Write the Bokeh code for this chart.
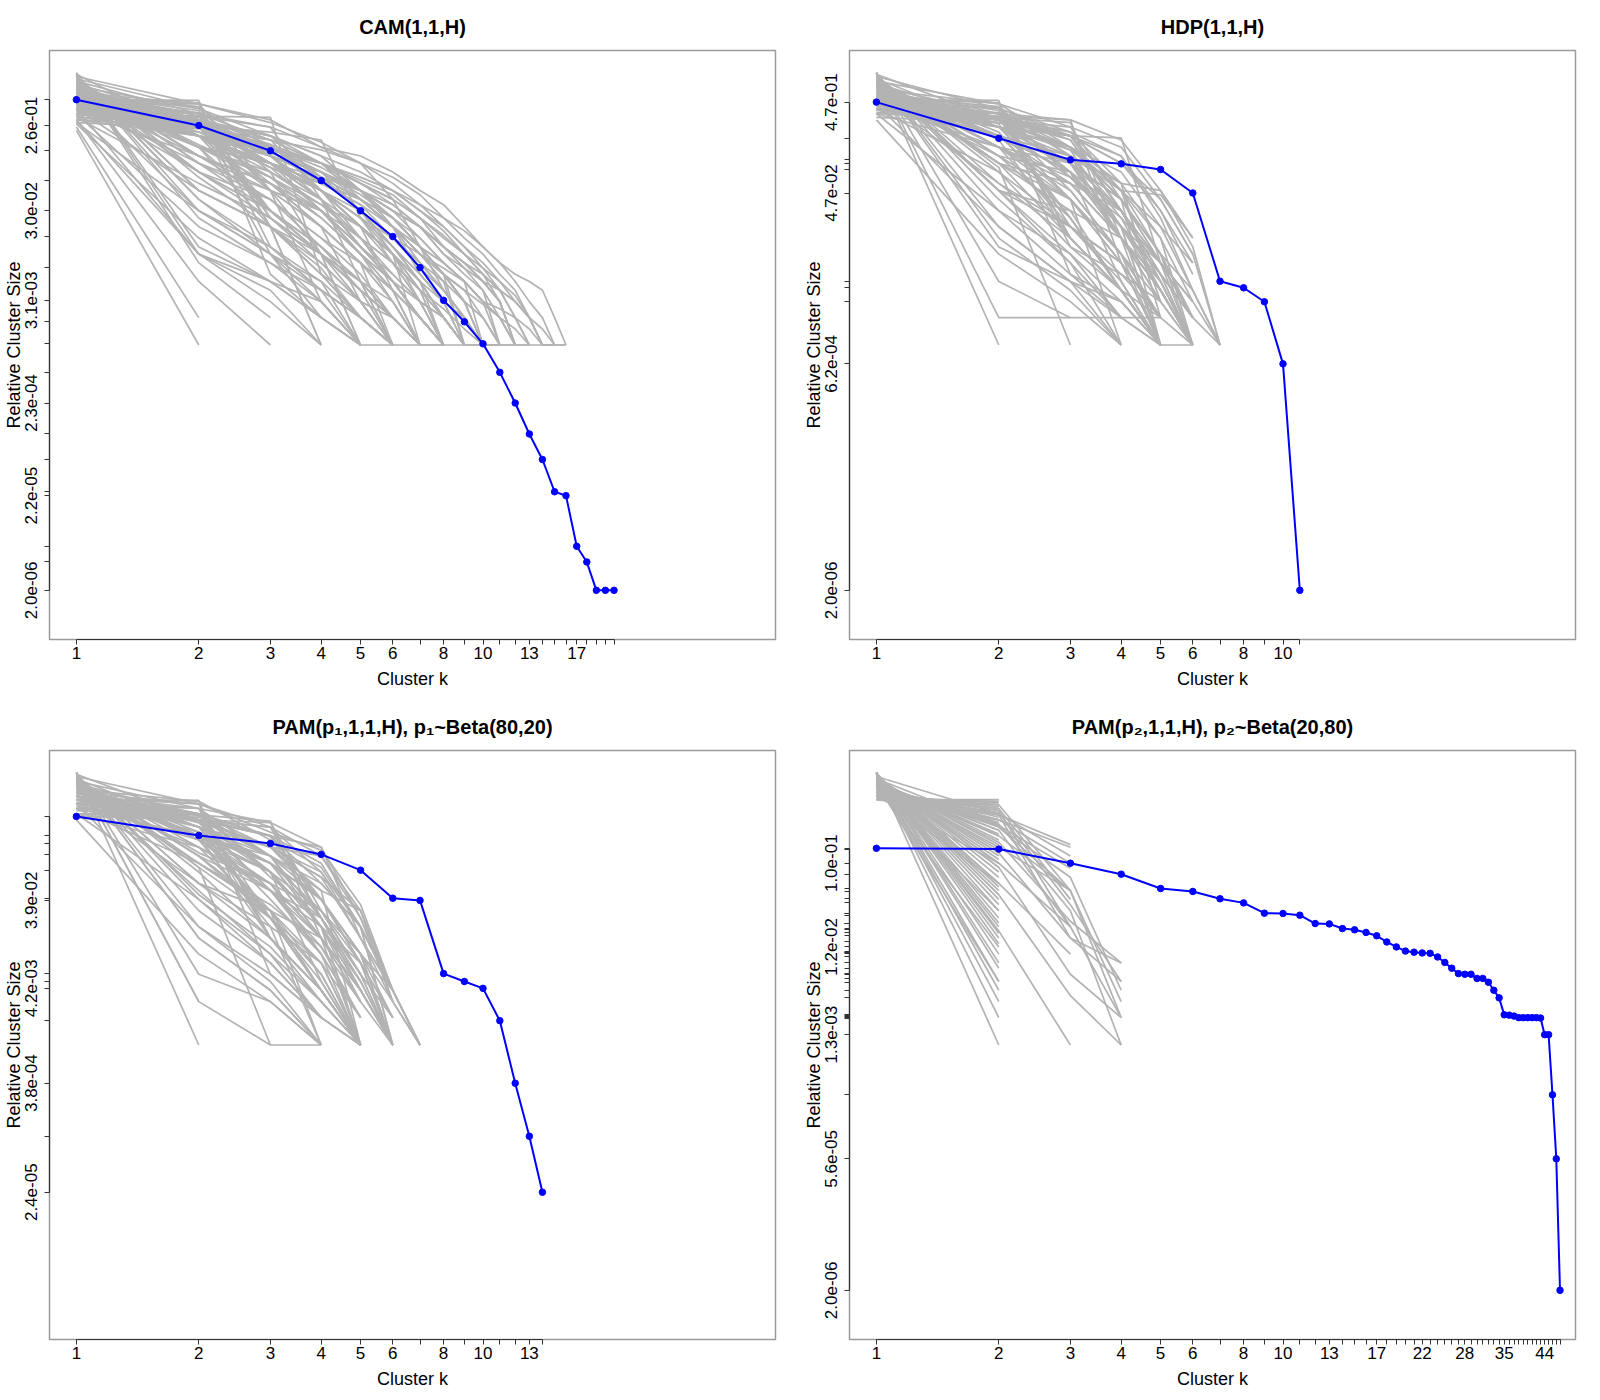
import math
from bokeh.plotting import figure
from bokeh.models import ColumnDataSource, Range1d, FixedTicker, CustomJSTickFormatter
from bokeh.layouts import gridplot
from bokeh.embed import file_html
from bokeh.resources import INLINE

FONT = "Liberation Sans"

# ---------------- data ----------------
CAM_TITLE = "CAM(1,1,H)"
CAM_BLUE = [0.50, 0.26, 0.137, 0.0645, 0.030, 0.0156, 0.0071, 0.0031, 0.0018, 0.00103,
            5.0e-4, 2.3e-4, 1.05e-4, 5.5e-5, 2.43e-5, 2.2e-5, 6.1e-6, 4.1e-6, 2.0e-6, 2.0e-6, 2.0e-6]
CAM_XLABELS = [1, 2, 3, 4, 5, 6, 8, 10, 13, 17]
CAM_YLAB_VALS = [0.26, 0.030, 0.0031, 2.3e-4, 2.2e-5, 2.0e-6]
CAM_YLAB_TEXT = ["2.6e-01", "3.0e-02", "3.1e-03", "2.3e-04", "2.2e-05", "2.0e-06"]
CAM_GRAY = [
    [0.99, 0.008, 0.002],
    [0.98, 0.012, 0.005, 0.002, 0.001],
    [0.96, 0.025, 0.008, 0.004, 0.002, 0.001],
    [0.94, 0.04, 0.012, 0.005, 0.002, 0.001],
    [0.92, 0.05, 0.02, 0.006, 0.003, 0.001],
    [0.9, 0.07, 0.02, 0.007, 0.002, 0.001],
    [0.88, 0.08, 0.025, 0.01, 0.004, 0.002, 0.001],
    [0.85, 0.1, 0.03, 0.012, 0.005, 0.002, 0.001],
    [0.82, 0.12, 0.04, 0.012, 0.004, 0.002, 0.001],
    [0.8, 0.15, 0.03, 0.01, 0.005, 0.003, 0.001, 0.001],
    [0.78, 0.12, 0.06, 0.025, 0.01, 0.004, 0.002, 0.001],
    [0.75, 0.2, 0.03, 0.01, 0.004, 0.002, 0.001],
    [0.73, 0.16, 0.07, 0.025, 0.01, 0.005, 0.002, 0.001],
    [0.7, 0.25, 0.03, 0.012, 0.005, 0.002, 0.001],
    [0.68, 0.2, 0.07, 0.03, 0.012, 0.006, 0.003, 0.002, 0.001],
    [0.66, 0.3, 0.025, 0.008, 0.003, 0.002, 0.001, 0.001],
    [0.64, 0.22, 0.09, 0.03, 0.012, 0.005, 0.002, 0.001],
    [0.62, 0.33, 0.03, 0.01, 0.004, 0.002, 0.001],
    [0.6, 0.25, 0.1, 0.03, 0.01, 0.004, 0.002, 0.001],
    [0.58, 0.38, 0.025, 0.01, 0.003, 0.001],
    [0.56, 0.28, 0.1, 0.04, 0.012, 0.005, 0.003, 0.001],
    [0.55, 0.42, 0.02, 0.006, 0.002, 0.001],
    [0.53, 0.3, 0.1, 0.04, 0.015, 0.006, 0.003, 0.002, 0.001],
    [0.52, 0.46, 0.012, 0.004, 0.002, 0.001],
    [0.5, 0.49, 0.006, 0.002, 0.001],
    [0.5, 0.3, 0.12, 0.05, 0.02, 0.008, 0.003, 0.002, 0.001, 0.001],
    [0.48, 0.25, 0.15, 0.07, 0.03, 0.012, 0.006, 0.003, 0.002, 0.001],
    [0.46, 0.36, 0.12, 0.04, 0.012, 0.005, 0.002, 0.001],
    [0.45, 0.25, 0.13, 0.08, 0.045, 0.025, 0.012, 0.006, 0.003, 0.002, 0.001, 0.001],
    [0.43, 0.32, 0.16, 0.05, 0.025, 0.01, 0.004, 0.002, 0.001],
    [0.42, 0.28, 0.12, 0.07, 0.05, 0.03, 0.015, 0.008, 0.005, 0.003, 0.002, 0.001, 0.001],
    [0.4, 0.35, 0.18, 0.05, 0.015, 0.005, 0.002, 0.001],
    [0.4, 0.25, 0.15, 0.09, 0.05, 0.03, 0.02, 0.012, 0.008, 0.006, 0.004, 0.003, 0.002, 0.0015, 0.001, 0.001],
    [0.38, 0.3, 0.2, 0.07, 0.03, 0.012, 0.005, 0.002, 0.001],
    [0.36, 0.33, 0.25, 0.04, 0.012, 0.005, 0.002, 0.001],
    [0.35, 0.3, 0.18, 0.1, 0.04, 0.02, 0.008, 0.004, 0.002, 0.001, 0.001],
    [0.34, 0.33, 0.32, 0.006, 0.002, 0.001],
    [0.32, 0.28, 0.2, 0.12, 0.05, 0.02, 0.006, 0.003, 0.001],
    [0.3, 0.26, 0.22, 0.18, 0.025, 0.008, 0.003, 0.001],
    [0.28, 0.24, 0.18, 0.14, 0.1, 0.04, 0.012, 0.004, 0.002, 0.001],
    [0.25, 0.002],
    [0.23, 0.001],
    [0.3, 0.25, 0.16, 0.1, 0.07, 0.05, 0.03, 0.02, 0.012, 0.008, 0.005, 0.003, 0.002, 0.001, 0.001],
    [0.35, 0.22, 0.14, 0.1, 0.065, 0.045, 0.025, 0.016, 0.01, 0.007, 0.005, 0.0035, 0.002, 0.001, 0.001, 0.001],
    [0.55, 0.2, 0.1, 0.06, 0.035, 0.02, 0.012, 0.008, 0.005, 0.003, 0.002, 0.001, 0.001],
    [0.6, 0.2, 0.09, 0.05, 0.025, 0.015, 0.008, 0.005, 0.003, 0.002, 0.001],
    [0.7, 0.15, 0.07, 0.035, 0.02, 0.01, 0.005, 0.003, 0.002, 0.001],
    [0.45, 0.3, 0.1, 0.06, 0.04, 0.02, 0.01, 0.006, 0.004, 0.0028, 0.002, 0.0015, 0.001, 0.001],
    [0.65, 0.25, 0.06, 0.02, 0.008, 0.004, 0.002, 0.001, 0.001],
    [0.5, 0.35, 0.08, 0.035, 0.015, 0.008, 0.004, 0.0025, 0.0015, 0.001],
    [0.42, 0.3, 0.14, 0.06, 0.035, 0.015, 0.007, 0.004, 0.002, 0.001, 0.001, 0.001],
    [0.3, 0.2, 0.14, 0.1, 0.07, 0.05, 0.035, 0.025, 0.018, 0.012, 0.008, 0.006, 0.005, 0.004, 0.002, 0.001],
    [0.8, 0.15, 0.02, 0.001],
    [0.7, 0.2, 0.05, 0.01, 0.001],
    [0.6, 0.3, 0.05, 0.02, 0.008, 0.001],
    [0.55, 0.25, 0.1, 0.05, 0.02, 0.01, 0.001],
    [0.5, 0.3, 0.1, 0.05, 0.02, 0.01, 0.005, 0.001],
    [0.45, 0.25, 0.12, 0.08, 0.04, 0.02, 0.01, 0.006, 0.001],
    [0.4, 0.3, 0.12, 0.07, 0.04, 0.025, 0.015, 0.008, 0.005, 0.001],
    [0.38, 0.25, 0.15, 0.08, 0.05, 0.03, 0.02, 0.01, 0.006, 0.004, 0.001],
    [0.35, 0.25, 0.15, 0.1, 0.05, 0.03, 0.02, 0.01, 0.007, 0.005, 0.003, 0.001],
    [0.3, 0.25, 0.18, 0.1, 0.06, 0.04, 0.025, 0.015, 0.01, 0.006, 0.004, 0.002, 0.001],
    [0.9, 0.05, 0.02, 0.01, 0.005, 0.001],
    [0.95, 0.03, 0.01, 0.003, 0.001, 0.001, 0.001],
    [0.85, 0.08, 0.04, 0.015, 0.008, 0.004, 0.001],
    [0.75, 0.12, 0.06, 0.03, 0.015, 0.008, 0.004, 0.002, 0.001, 0.001, 0.001],
    [0.65, 0.15, 0.1, 0.05, 0.02, 0.01, 0.004, 0.001],
    [0.6, 0.15, 0.1, 0.06, 0.04, 0.025, 0.012, 0.006, 0.003, 0.001],
    [0.5, 0.2, 0.12, 0.08, 0.05, 0.025, 0.012, 0.006, 0.004, 0.002, 0.001],
    [0.4, 0.2, 0.15, 0.1, 0.06, 0.04, 0.025, 0.012, 0.008, 0.005, 0.003, 0.001],
    [0.98, 0.01, 0.005, 0.003, 0.001],
    [0.7, 0.28, 0.01, 0.005, 0.001],
    [0.45, 0.45, 0.05, 0.03, 0.01, 0.005, 0.002, 0.001],
    [0.6, 0.35, 0.02, 0.001],
    [0.55, 0.35, 0.05, 0.03, 0.01, 0.003, 0.001],
    [0.35, 0.3, 0.15, 0.08, 0.05, 0.035, 0.02, 0.012, 0.008, 0.005, 0.004, 0.003, 0.002, 0.001],
    [0.5, 0.25, 0.1, 0.07, 0.03, 0.015, 0.01, 0.007, 0.005, 0.003, 0.0025, 0.002, 0.0015, 0.001, 0.001],
    [0.3, 0.01, 0.003, 0.001],
    [0.35, 0.02, 0.008, 0.003, 0.001],
    [0.4, 0.05, 0.02, 0.008, 0.003, 0.001],
    [0.28, 0.03, 0.012, 0.004, 0.001],
    [0.32, 0.06, 0.025, 0.01, 0.004, 0.002, 0.001],
    [0.45, 0.1, 0.04, 0.015, 0.006, 0.002, 0.001],
    [0.38, 0.12, 0.06, 0.03, 0.012, 0.005, 0.002, 0.001],
    [0.5, 0.15, 0.08, 0.04, 0.02, 0.01, 0.005, 0.002, 0.001],
    [0.27, 0.015, 0.005, 0.002, 0.001],
    [0.33, 0.2, 0.1, 0.05, 0.03, 0.015, 0.008, 0.004, 0.002, 0.001],
    [0.6, 0.4, 0.15, 0.1, 0.06, 0.035, 0.02, 0.012, 0.007, 0.004, 0.002, 0.001],
    [0.7, 0.4, 0.2, 0.12, 0.08, 0.05, 0.03, 0.018, 0.01, 0.006, 0.003, 0.001],
    [0.9, 0.45, 0.3, 0.15, 0.1, 0.07, 0.045, 0.025, 0.015, 0.01, 0.006, 0.004, 0.002, 0.001],
    [0.8, 0.35, 0.25, 0.15, 0.12, 0.08, 0.05, 0.035, 0.02, 0.012, 0.008, 0.005, 0.003, 0.002, 0.001],
    [0.6, 0.45, 0.28, 0.17, 0.1, 0.06, 0.035, 0.02, 0.012, 0.007, 0.004, 0.002, 0.001],
    [0.75, 0.3, 0.2, 0.1, 0.05, 0.025, 0.012, 0.006, 0.003, 0.001],
    [0.95, 0.2, 0.1, 0.05, 0.025, 0.012, 0.006, 0.003, 0.001],
    [0.85, 0.4, 0.15, 0.07, 0.03, 0.012, 0.005, 0.002, 0.001],
    [0.55, 0.12, 0.05, 0.02, 0.008, 0.003, 0.001],
    [0.65, 0.08, 0.03, 0.01, 0.004, 0.001],
    [0.6, 0.2, 0.08, 0.01, 0.001],
    [0.5, 0.25, 0.1, 0.04, 0.005, 0.001],
    [0.45, 0.3, 0.1, 0.05, 0.02, 0.004, 0.001],
    [0.4, 0.25, 0.15, 0.08, 0.03, 0.01, 0.003, 0.001],
    [0.55, 0.2, 0.12, 0.05, 0.02, 0.01, 0.004, 0.001],
    [0.35, 0.3, 0.12, 0.08, 0.05, 0.02, 0.01, 0.005, 0.001],
    [0.5, 0.2, 0.1, 0.06, 0.04, 0.02, 0.01, 0.006, 0.003, 0.001],
    [0.45, 0.25, 0.12, 0.07, 0.04, 0.02, 0.012, 0.008, 0.005, 0.003, 0.001],
    [0.4, 0.2, 0.12, 0.08, 0.05, 0.03, 0.02, 0.012, 0.008, 0.005, 0.003, 0.001],
    [0.8, 0.1, 0.05, 0.003, 0.001],
    [0.7, 0.15, 0.06, 0.02, 0.003, 0.001],
    [0.9, 0.04, 0.01, 0.002, 0.001],
    [0.3, 0.005, 0.001],
    [0.4, 0.01, 0.004, 0.001],
    [0.6, 0.03, 0.01, 0.004, 0.002, 0.001],
    [0.5, 0.08, 0.03, 0.012, 0.005, 0.002, 0.001],
]

HDP_TITLE = "HDP(1,1,H)"
HDP_BLUE = [0.47, 0.188, 0.109, 0.0984, 0.0853, 0.047, 0.00503, 0.00426, 0.00299, 6.2e-4, 2.0e-6]
HDP_XLABELS = [1, 2, 3, 4, 5, 6, 8, 10]
HDP_YLAB_VALS = [0.47, 0.047, 6.2e-4, 2.0e-6]
HDP_YLAB_TEXT = ["4.7e-01", "4.7e-02", "6.2e-04", "2.0e-06"]
HDP_GRAY = [
    [0.999, 0.001],
    [0.996, 0.002, 0.002],
    [0.99, 0.005, 0.002, 0.002, 0.001],
    [0.98, 0.012, 0.005, 0.002, 0.001],
    [0.96, 0.03, 0.006, 0.002, 0.002],
    [0.94, 0.05, 0.008, 0.002],
    [0.92, 0.06, 0.015, 0.004, 0.001],
    [0.9, 0.08, 0.012, 0.006, 0.002],
    [0.88, 0.1, 0.015, 0.004, 0.001, 0.001],
    [0.85, 0.12, 0.025, 0.004, 0.001],
    [0.82, 0.15, 0.02, 0.008, 0.002],
    [0.8, 0.18, 0.015, 0.004, 0.001],
    [0.78, 0.12, 0.08, 0.015, 0.005, 0.001],
    [0.75, 0.22, 0.025, 0.004, 0.001],
    [0.72, 0.2, 0.06, 0.015, 0.003, 0.001],
    [0.7, 0.27, 0.025, 0.004],
    [0.68, 0.2, 0.1, 0.015, 0.004, 0.001],
    [0.65, 0.32, 0.02, 0.008, 0.002],
    [0.62, 0.25, 0.1, 0.02, 0.006, 0.002],
    [0.6, 0.38, 0.015, 0.004, 0.001],
    [0.58, 0.3, 0.1, 0.015, 0.003, 0.001],
    [0.56, 0.42, 0.015, 0.004, 0.001],
    [0.54, 0.3, 0.14, 0.02, 0.004, 0.001],
    [0.52, 0.46, 0.012, 0.004, 0.002],
    [0.5, 0.49, 0.006, 0.003, 0.001],
    [0.5, 0.35, 0.12, 0.025, 0.004, 0.001],
    [0.48, 0.3, 0.18, 0.03, 0.006, 0.002],
    [0.46, 0.4, 0.12, 0.015, 0.004, 0.001],
    [0.44, 0.32, 0.2, 0.03, 0.006, 0.001],
    [0.42, 0.36, 0.18, 0.03, 0.008, 0.002],
    [0.4, 0.3, 0.25, 0.04, 0.008, 0.002],
    [0.38, 0.32, 0.28, 0.015, 0.004, 0.001],
    [0.36, 0.33, 0.3, 0.008, 0.002],
    [0.35, 0.3, 0.2, 0.12, 0.025, 0.004, 0.001],
    [0.32, 0.28, 0.2, 0.19, 0.008, 0.002],
    [0.4, 0.25, 0.2, 0.1, 0.04, 0.01],
    [0.5, 0.25, 0.14, 0.05, 0.045, 0.015],
    [0.45, 0.28, 0.15, 0.06, 0.05, 0.012, 0.001],
    [0.6, 0.2, 0.12, 0.05, 0.02, 0.008],
    [0.7, 0.15, 0.1, 0.04, 0.01, 0.004, 0.001],
    [0.8, 0.1, 0.06, 0.03, 0.008, 0.003],
    [0.65, 0.25, 0.07, 0.025, 0.008, 0.002],
    [0.55, 0.25, 0.15, 0.04, 0.008, 0.003, 0.001],
    [0.9, 0.05, 0.03, 0.015, 0.004, 0.001],
    [0.75, 0.15, 0.07, 0.02, 0.006, 0.002, 0.001],
    [0.9, 0.09, 0.001],
    [0.8, 0.15, 0.04, 0.001],
    [0.7, 0.2, 0.08, 0.02, 0.001],
    [0.6, 0.3, 0.08, 0.015, 0.001],
    [0.5, 0.3, 0.15, 0.04, 0.01, 0.001],
    [0.45, 0.35, 0.15, 0.04, 0.001],
    [0.4, 0.35, 0.2, 0.05, 0.015, 0.001],
    [0.85, 0.1, 0.04, 0.008, 0.001],
    [0.95, 0.04, 0.008, 0.001],
    [0.75, 0.2, 0.04, 0.01, 0.001],
    [0.65, 0.2, 0.12, 0.03, 0.005, 0.001],
    [0.55, 0.35, 0.08, 0.02, 0.001],
    [0.97, 0.02, 0.005, 0.003, 0.001],
    [0.92, 0.05, 0.02, 0.006, 0.003],
    [0.6, 0.25, 0.1, 0.04, 0.01, 0.002],
    [0.5, 0.4, 0.07, 0.02, 0.008, 0.001],
    [0.7, 0.25, 0.04, 0.008, 0.002],
    [0.98, 0.015, 0.004, 0.001],
    [0.45, 0.3, 0.2, 0.05, 0.003],
    [0.4, 0.32, 0.22, 0.06, 0.002],
    [0.3, 0.01, 0.003, 0.001],
    [0.35, 0.03, 0.01, 0.002],
    [0.4, 0.08, 0.02, 0.005, 0.001],
    [0.45, 0.15, 0.05, 0.01, 0.002],
    [0.9, 0.4, 0.2, 0.1, 0.03, 0.008],
    [0.8, 0.45, 0.25, 0.15, 0.04, 0.01, 0.001],
    [0.7, 0.35, 0.3, 0.18, 0.05, 0.015],
    [0.95, 0.3, 0.15, 0.08, 0.02, 0.004],
    [0.6, 0.4, 0.22, 0.12, 0.03, 0.006],
    [0.85, 0.25, 0.12, 0.06, 0.015, 0.003],
    [0.55, 0.12, 0.04, 0.01, 0.003],
    [0.5, 0.2, 0.08, 0.03, 0.006, 0.001],
    [0.75, 0.3, 0.1, 0.03, 0.005],
    [0.65, 0.45, 0.15, 0.05, 0.01, 0.002],
    [0.6, 0.2, 0.08, 0.005, 0.001],
    [0.5, 0.3, 0.05, 0.01, 0.002, 0.001],
    [0.7, 0.1, 0.03, 0.004, 0.001],
    [0.4, 0.2, 0.1, 0.02, 0.005, 0.001],
    [0.8, 0.05, 0.01, 0.003, 0.001],
    [0.45, 0.02, 0.005, 0.001],
    [0.55, 0.06, 0.02, 0.008, 0.001],
    [0.35, 0.15, 0.06, 0.015, 0.004, 0.001],
]

PAM1_TITLE = "PAM(p\u2081,1,1,H), p\u2081~Beta(80,20)"
PAM1_BLUE = [0.327, 0.202, 0.165, 0.125, 0.0838, 0.0412, 0.039, 0.0061, 0.005, 0.0042,
             0.00185, 3.8e-4, 9.9e-5, 2.4e-5]
PAM1_XLABELS = [1, 2, 3, 4, 5, 6, 8, 10, 13]
PAM1_YLAB_VALS = [0.039, 0.0042, 3.8e-4, 2.4e-5]
PAM1_YLAB_TEXT = ["3.9e-02", "4.2e-03", "3.8e-04", "2.4e-05"]
PAM1_GRAY = [
    [0.999, 0.001],
    [0.997, 0.003],
    [0.99, 0.006, 0.003, 0.001],
    [0.98, 0.015, 0.004, 0.001],
    [0.96, 0.03, 0.008, 0.002],
    [0.94, 0.045, 0.012, 0.003, 0.001],
    [0.92, 0.06, 0.015, 0.004, 0.001],
    [0.9, 0.08, 0.015, 0.004, 0.001],
    [0.88, 0.09, 0.025, 0.005, 0.001],
    [0.85, 0.12, 0.025, 0.006, 0.001],
    [0.82, 0.15, 0.025, 0.004, 0.001],
    [0.8, 0.13, 0.06, 0.01, 0.002],
    [0.78, 0.2, 0.015, 0.004, 0.001],
    [0.75, 0.18, 0.05, 0.015, 0.003],
    [0.72, 0.25, 0.025, 0.004, 0.001],
    [0.7, 0.2, 0.08, 0.015, 0.004, 0.001],
    [0.68, 0.3, 0.015, 0.004, 0.001],
    [0.65, 0.25, 0.08, 0.02, 0.004],
    [0.62, 0.35, 0.025, 0.004, 0.001],
    [0.6, 0.28, 0.1, 0.02, 0.003, 0.001],
    [0.58, 0.4, 0.015, 0.004, 0.001],
    [0.55, 0.3, 0.12, 0.025, 0.005],
    [0.53, 0.45, 0.015, 0.003, 0.001],
    [0.5, 0.49, 0.006, 0.002, 0.001],
    [0.5, 0.35, 0.12, 0.025, 0.004, 0.001],
    [0.47, 0.3, 0.2, 0.025, 0.006],
    [0.45, 0.4, 0.12, 0.02, 0.008, 0.002],
    [0.42, 0.3, 0.25, 0.025, 0.004, 0.001],
    [0.4, 0.35, 0.2, 0.04, 0.008, 0.001],
    [0.38, 0.3, 0.28, 0.03, 0.006, 0.002],
    [0.35, 0.34, 0.29, 0.015, 0.004, 0.001],
    [0.33, 0.3, 0.2, 0.15, 0.015, 0.004],
    [0.4, 0.3, 0.15, 0.12, 0.025, 0.004, 0.001],
    [0.45, 0.3, 0.15, 0.07, 0.03, 0.003, 0.001],
    [0.5, 0.25, 0.15, 0.08, 0.015, 0.004],
    [0.6, 0.2, 0.12, 0.06, 0.02, 0.001],
    [0.55, 0.25, 0.12, 0.05, 0.03, 0.004, 0.001],
    [0.65, 0.2, 0.1, 0.04, 0.01, 0.001],
    [0.7, 0.18, 0.08, 0.03, 0.008, 0.002],
    [0.8, 0.12, 0.05, 0.025, 0.006, 0.001],
    [0.85, 0.1, 0.035, 0.012, 0.003],
    [0.9, 0.06, 0.03, 0.008, 0.002],
    [0.995, 0.003, 0.001, 0.001],
    [0.75, 0.2, 0.03, 0.015, 0.004, 0.001],
    [0.9, 0.09, 0.001],
    [0.8, 0.18, 0.02, 0.001],
    [0.7, 0.25, 0.04, 0.01, 0.001],
    [0.6, 0.3, 0.08, 0.015, 0.001],
    [0.5, 0.3, 0.15, 0.04, 0.01, 0.001],
    [0.45, 0.35, 0.15, 0.05, 0.001],
    [0.4, 0.32, 0.2, 0.06, 0.02, 0.001],
    [0.85, 0.12, 0.03, 0.001],
    [0.95, 0.04, 0.008, 0.002, 0.001],
    [0.75, 0.22, 0.025, 0.008, 0.001],
    [0.65, 0.28, 0.05, 0.02, 0.001],
    [0.55, 0.35, 0.08, 0.02, 0.001],
    [0.97, 0.02, 0.006, 0.002, 0.001],
    [0.6, 0.25, 0.1, 0.04, 0.008, 0.001],
    [0.5, 0.4, 0.07, 0.025, 0.005, 0.001],
    [0.98, 0.015, 0.004, 0.001],
    [0.45, 0.3, 0.2, 0.04, 0.01, 0.003],
    [0.7, 0.2, 0.06, 0.03, 0.01, 0.004, 0.001],
    [0.35, 0.3, 0.25, 0.08, 0.02, 0.004, 0.001],
    [0.3, 0.01, 0.003, 0.001],
    [0.35, 0.04, 0.01, 0.002],
    [0.4, 0.1, 0.03, 0.006, 0.001],
    [0.45, 0.18, 0.06, 0.015, 0.003],
    [0.9, 0.45, 0.25, 0.12, 0.03, 0.004],
    [0.8, 0.4, 0.28, 0.15, 0.025, 0.003, 0.001],
    [0.7, 0.35, 0.2, 0.1, 0.02, 0.004],
    [0.95, 0.3, 0.15, 0.07, 0.015, 0.003],
    [0.6, 0.45, 0.22, 0.14, 0.035, 0.004],
    [0.85, 0.25, 0.1, 0.04, 0.01, 0.002],
    [0.55, 0.15, 0.05, 0.012, 0.002],
    [0.5, 0.22, 0.1, 0.03, 0.006, 0.001],
    [0.75, 0.33, 0.12, 0.04, 0.008],
    [0.65, 0.48, 0.18, 0.09, 0.02, 0.004, 0.001],
    [0.6, 0.2, 0.08, 0.005, 0.001],
    [0.5, 0.3, 0.05, 0.01, 0.002],
    [0.7, 0.1, 0.03, 0.004, 0.001],
    [0.4, 0.2, 0.1, 0.02, 0.005, 0.001],
    [0.8, 0.05, 0.01, 0.003, 0.001],
    [0.45, 0.02, 0.005, 0.001],
    [0.55, 0.06, 0.02, 0.008, 0.001],
    [0.35, 0.15, 0.06, 0.015, 0.004],
]

PAM2_TITLE = "PAM(p\u2082,1,1,H), p\u2082~Beta(20,80)"
PAM2_BLUE = [0.146, 0.143, 0.10, 0.0757, 0.0527, 0.0489, 0.0406, 0.0366, 0.0282, 0.028,
             0.0268, 0.0217, 0.0215, 0.0191, 0.0185, 0.0173, 0.0159, 0.0136, 0.012, 0.0108,
             0.0105, 0.0103, 0.0102, 0.0093, 0.0081, 0.0070, 0.0061, 0.0060, 0.0060, 0.0054,
             0.0054, 0.0049, 0.0040, 0.0033, 0.00215, 0.00213, 0.00208, 0.0020, 0.0020, 0.0020,
             0.0020, 0.0020, 0.00198, 0.0013, 0.0013, 2.83e-4, 5.6e-5, 2.0e-6]
PAM2_XLABELS = [1, 2, 3, 4, 5, 6, 8, 10, 13, 17, 22, 28, 35, 44]
PAM2_YLAB_VALS = [0.10, 0.012, 0.0013, 5.6e-5, 2.0e-6]
PAM2_YLAB_TEXT = ["1.0e-01", "1.2e-02", "1.3e-03", "5.6e-05", "2.0e-06"]
PAM2_GRAY = [
    [0.999, 0.001], [0.998, 0.002], [0.997, 0.003], [0.996, 0.004], [0.995, 0.005],
    [0.993, 0.007], [0.992, 0.008], [0.99, 0.01], [0.987, 0.013], [0.985, 0.015],
    [0.983, 0.017], [0.98, 0.02], [0.978, 0.022], [0.975, 0.025], [0.97, 0.03],
    [0.965, 0.035], [0.96, 0.04], [0.955, 0.045], [0.95, 0.05], [0.945, 0.055],
    [0.94, 0.06], [0.93, 0.07], [0.92, 0.08], [0.91, 0.09], [0.9, 0.1],
    [0.89, 0.11], [0.88, 0.12], [0.87, 0.13], [0.86, 0.14], [0.84, 0.16],
    [0.82, 0.18], [0.8, 0.2], [0.79, 0.21], [0.77, 0.23], [0.74, 0.26],
    [0.72, 0.28], [0.7, 0.3], [0.68, 0.32], [0.66, 0.34], [0.62, 0.38],
    [0.6, 0.4], [0.58, 0.42], [0.56, 0.44], [0.54, 0.46], [0.52, 0.48], [0.5, 0.5],
    [0.75, 0.005], [0.7, 0.012], [0.65, 0.03], [0.6, 0.06], [0.55, 0.1],
    [0.5, 0.34, 0.16],
    [0.55, 0.3, 0.15],
    [0.6, 0.3, 0.1],
    [0.65, 0.26, 0.088],
    [0.7, 0.25, 0.05],
    [0.6, 0.36, 0.035, 0.005],
    [0.75, 0.2, 0.05],
    [0.8, 0.17, 0.023, 0.008],
    [0.85, 0.13, 0.015, 0.005],
    [0.9, 0.09, 0.006, 0.002],
    [0.95, 0.045, 0.0035, 0.001],
    [0.98, 0.018, 0.001],
    [0.7, 0.27, 0.03, 0.001],
    [0.93, 0.06, 0.01],
    [0.88, 0.1, 0.02],
    [0.64, 0.34, 0.015, 0.008],
    [0.5, 0.44, 0.05, 0.002],
    [0.6, 0.38, 0.02],
    [0.75, 0.23, 0.02, 0.002],
    [0.8, 0.15, 0.05, 0.003],
    [0.55, 0.4, 0.04],
    [0.9, 0.35, 0.12],
    [0.85, 0.25, 0.07, 0.004],
]

X_LIM = (1, 45)
Y_LIM = (1e-6, 1.0)

LABEL_CODE = """
const v = Number(tick);
for (let i = 0; i < vals.length; i++) {
  if (Math.abs(v - vals[i]) <= 1e-9 * Math.abs(vals[i])) { return labs[i]; }
}
return "";
"""


def log_range(lo, hi):
    a, b = math.log10(lo), math.log10(hi)
    e = 0.04 * (b - a)
    return Range1d(10 ** (a - e), 10 ** (b + e))


def make_panel(title, blue, gray, xlabels, ylab_vals, ylab_text, fl, fr, ft, fb, W=800, H=700):
    p = figure(width=W, height=H, x_axis_type="log", y_axis_type="log",
               x_range=log_range(*X_LIM), y_range=log_range(*Y_LIM),
               output_backend="svg", toolbar_location=None,
               min_border_left=fl, min_border_right=W - fr,
               min_border_top=ft, min_border_bottom=H - fb,
               background_fill_color="white", border_fill_color="white",
               x_axis_label="Cluster k", y_axis_label="Relative Cluster Size")
    p.title.text = title
    p.title.align = "center"
    p.title.text_font = FONT
    p.title.text_font_size = "20px"
    p.title.text_font_style = "bold"
    p.title.text_color = "black"
    p.title.standoff = 26
    p.xgrid.visible = False
    p.ygrid.visible = False
    p.outline_line_color = "#9a9a9a"
    p.outline_line_width = 1.5

    n = len(blue)
    ks = list(range(1, n + 1))

    gx = [list(range(1, len(g) + 1)) for g in gray]
    p.multi_line(xs=gx, ys=gray, line_color="#b3b3b3", line_width=1.7)

    src = ColumnDataSource(dict(k=ks, v=blue))
    p.line("k", "v", source=src, line_color="#0000ff", line_width=2)
    p.scatter("k", "v", source=src, size=6.5, fill_color="#0000ff", line_color="#0000ff")

    xa = p.xaxis[0]
    xa.ticker = FixedTicker(ticks=ks, minor_ticks=[])
    xa.formatter = CustomJSTickFormatter(args=dict(vals=xlabels, labs=[str(v) for v in xlabels]),
                                         code=LABEL_CODE)
    xa.bounds = (1, n)
    xa.major_label_standoff = 2
    xa.axis_label_standoff = 7

    ya = p.yaxis[0]
    ya.ticker = FixedTicker(ticks=sorted(set(blue)), minor_ticks=[])
    ya.formatter = CustomJSTickFormatter(args=dict(vals=ylab_vals, labs=ylab_text), code=LABEL_CODE)
    ya.bounds = (min(blue), max(blue))
    ya.major_label_orientation = "vertical"
    ya.major_label_standoff = 7
    ya.axis_label_standoff = -1

    for ax in (xa, ya):
        ax.axis_line_color = "#333333"
        ax.axis_line_width = 1.2
        ax.major_tick_line_color = "#333333"
        ax.major_tick_out = 5
        ax.major_tick_in = 0
        ax.minor_tick_out = 0
        ax.minor_tick_in = 0
        ax.major_label_text_font = FONT
        ax.major_label_text_font_size = "17px"
        ax.major_label_text_color = "black"
        ax.axis_label_text_font = FONT
        ax.axis_label_text_font_size = "18px"
        ax.axis_label_text_font_style = "normal"
        ax.axis_label_text_color = "black"
    return p


p1 = make_panel(CAM_TITLE, CAM_BLUE, CAM_GRAY, CAM_XLABELS, CAM_YLAB_VALS, CAM_YLAB_TEXT, 47, 775, 50, 639)
p2 = make_panel(HDP_TITLE, HDP_BLUE, HDP_GRAY, HDP_XLABELS, HDP_YLAB_VALS, HDP_YLAB_TEXT, 49, 775, 50, 639)
p3 = make_panel(PAM1_TITLE, PAM1_BLUE, PAM1_GRAY, PAM1_XLABELS, PAM1_YLAB_VALS, PAM1_YLAB_TEXT, 47, 775, 49, 639)
p4 = make_panel(PAM2_TITLE, PAM2_BLUE, PAM2_GRAY, PAM2_XLABELS, PAM2_YLAB_VALS, PAM2_YLAB_TEXT, 49, 775, 49, 639)

grid = gridplot([[p1, p2], [p3, p4]], toolbar_location=None)

open("out.html", "w").write(file_html(grid, INLINE))
